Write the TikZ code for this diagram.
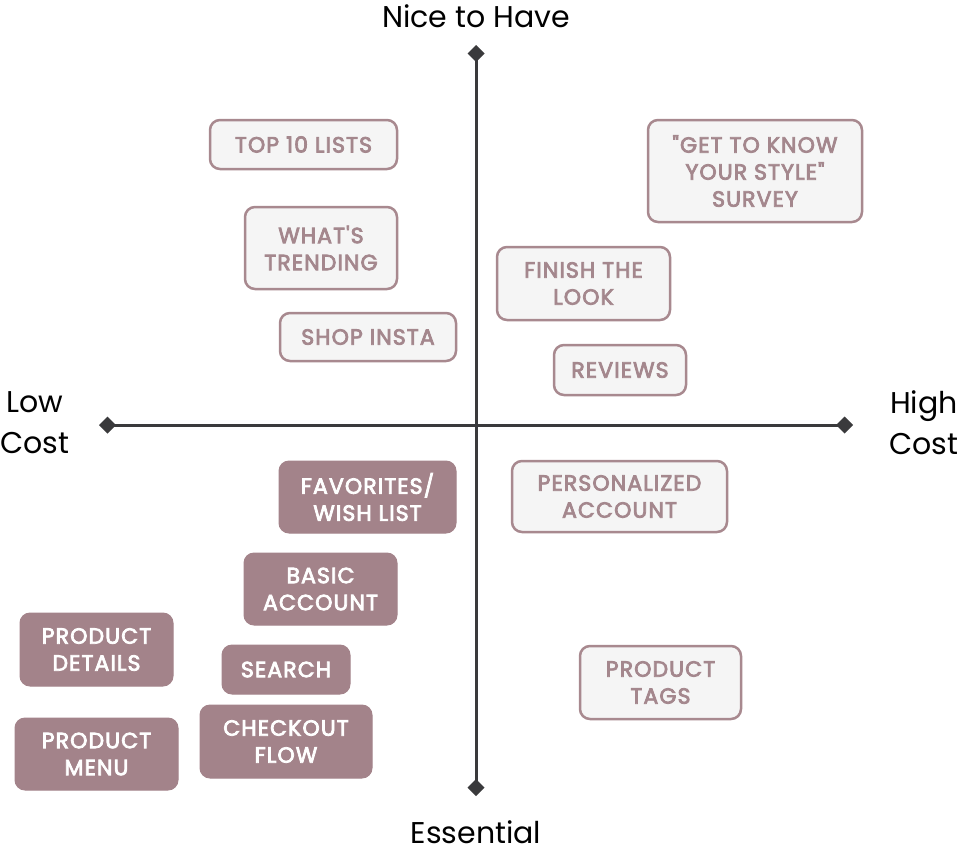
\documentclass[tikz,border=0pt]{standalone}
\usepackage{fontspec}
\setmainfont{Poppins}
\newfontfamily\boxfont{Poppins}[LetterSpace=5,FakeBold=3.5]
\usetikzlibrary{arrows.meta}
\definecolor{axisc}{HTML}{3A3A3C}
\definecolor{lightfill}{HTML}{F5F5F5}
\definecolor{roseborder}{HTML}{A8898F}
\definecolor{rosetext}{HTML}{A4878D}
\definecolor{rosefill}{HTML}{A3838A}
\tikzset{
  box/.style={rectangle, rounded corners=10pt, align=center, inner sep=0pt,
    font=\boxfont\fontsize{22}{27}\selectfont},
  lightbox/.style={box, fill=lightfill, draw=roseborder, line width=2.5pt, text=rosetext},
  darkbox/.style={box, fill=rosefill, draw=rosefill, line width=1pt, text=white},
  axis/.style={draw=axisc, line width=3pt, shorten <=-8pt, shorten >=-8pt,
    {Diamond[length=17pt,width=17pt]}-{Diamond[length=17pt,width=17pt]}},
  axlabel/.style={font=\fontsize{30}{41}\selectfont, align=center, text=black}
}
\newcommand{\bx}[7]{% style, name, x1, y1, x2, y2, text
  \node[#1, minimum width={#5-#3}, minimum height={#6-#4}] (#2) at ({(#3+#5)/2},{(#4+#6)/2}) {#7};}
\newcommand{\dq}{\symbol{"22}}
\newcommand{\sq}{\symbol{"27}}
\begin{document}
\begin{tikzpicture}[x=1pt,y=-1pt]
\useasboundingbox (0,0) rectangle (960,852);
\coordinate (top) at (476,53);
\coordinate (bot) at (476,788);
\coordinate (left) at (107,425);
\coordinate (right) at (845,425);
\draw[axis] (top) -- (bot);
\draw[axis] (left) -- (right);
\node[axlabel, anchor=base] (nice) at (476,27) {Nice to Have};
\node[axlabel, anchor=base] (ess) at (476,843) {Essential};
\node[axlabel] (low) at (35,423) {Low\\Cost};
\node[axlabel] (high) at (924,423) {High\\Cost};
\bx{lightbox}{top10}{210}{120}{397}{169}{TOP 10 LISTS}
\bx{lightbox}{survey}{648}{120}{862}{222}{\dq GET TO KNOW\\YOUR STYLE\dq\\SURVEY}
\bx{lightbox}{trend}{245}{207}{397}{289}{WHAT\sq S\\TRENDING}
\bx{lightbox}{finish}{497}{247}{670}{320}{FINISH THE\\LOOK}
\bx{lightbox}{insta}{280}{313}{456}{361}{SHOP INSTA}
\bx{lightbox}{reviews}{554}{345}{686}{395}{REVIEWS}
\bx{lightbox}{persacc}{512}{461}{727}{532}{PERSONALIZED\\ACCOUNT}
\bx{lightbox}{tags}{580}{646}{741}{719}{PRODUCT\\TAGS}
\bx{darkbox}{fav}{279}{461}{456}{533}{FAVORITES/\\WISH LIST}
\bx{darkbox}{basic}{244}{553}{397}{625}{BASIC\\ACCOUNT}
\bx{darkbox}{details}{20}{613}{173}{686}{PRODUCT\\DETAILS}
\bx{darkbox}{search}{222}{645}{350}{694}{SEARCH}
\bx{darkbox}{menu}{15}{718}{178}{790}{PRODUCT\\MENU}
\bx{darkbox}{checkout}{200}{705}{372}{778}{CHECKOUT\\FLOW}
\end{tikzpicture}
\end{document}
